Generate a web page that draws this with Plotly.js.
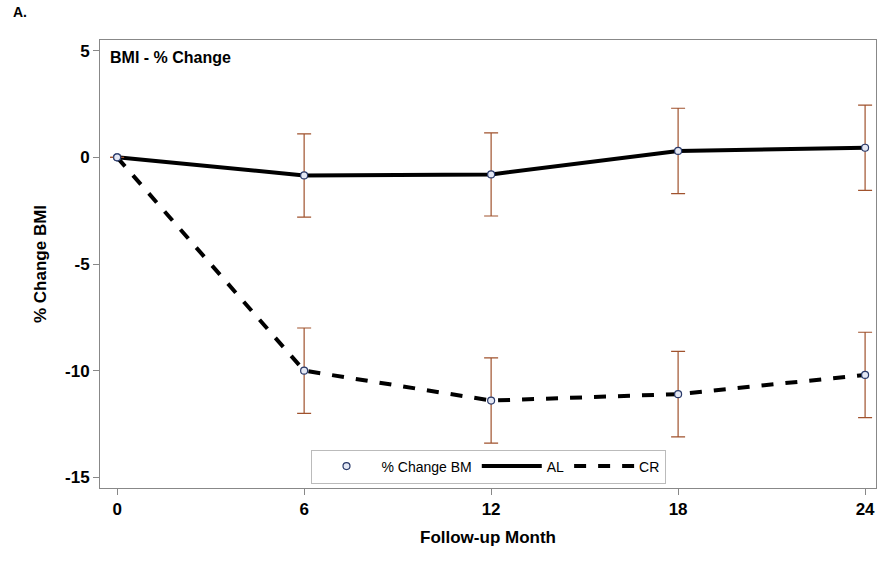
<!DOCTYPE html>
<html><head><script src="https://cdn.plot.ly/plotly-3.0.1.min.js"></script>
<style>body{margin:0;background:#fff}</style></head>
<body><div id="chart" style="width:888px;height:574px"></div>
<script>
const months = [0, 6, 12, 18, 24];
const al_change = [0, -0.85, -0.8, 0.3, 0.45];
const cr_change = [0, -10.0, -11.4, -11.1, -10.2];
const al_err = [0, 1.95, 1.95, 2.0, 2.0];
const cr_err = [0, 2.0, 2.0, 2.0, 2.0];
const y_ticks = [5, 0, -5, -10, -15];
const y_labels = ['5', '0', '-5', '-10', '-15'];
const errColor = '#a0522d';

const data = [
	{x: months.concat(months), y: al_change.concat(cr_change), mode: 'markers', name: '% Change BM',
		marker: {symbol: 'circle', size: 7, color: '#e4e8f4', line: {color: '#2a3a6a', width: 1.2}}},
	{x: months, y: al_change, mode: 'lines', name: 'AL', line: {color: '#000', width: 4},
		error_y: {type: 'data', array: al_err, color: errColor, thickness: 1.2, width: 7}},
	{x: months, y: cr_change, mode: 'lines', name: 'CR', line: {color: '#000', width: 4, dash: 'dash'},
		error_y: {type: 'data', array: cr_err, color: errColor, thickness: 1.2, width: 7}}
];
// draw markers on top
const order = [data[1], data[2], data[0]];
const layout = {
	width: 888, height: 574,
	margin: {l: 100, r: 12, t: 40, b: 86},
	font: {family: 'Arial, Liberation Sans, sans-serif', color: '#000'},
	showlegend: true,
	legend: {orientation: 'h', x: 0.5, xanchor: 'center', y: 0.01, yanchor: 'bottom',
		bordercolor: '#bbb', borderwidth: 1, font: {size: 14}, traceorder: 'normal', bgcolor: '#fff',
		itemwidth: 60, tracegroupgap: 0},
	xaxis: {range: [-0.55, 24.35], tickvals: months, showgrid: false, zeroline: false,
		showline: true, mirror: true, linecolor: '#888', ticks: 'outside', ticklen: 6, tickcolor: '#888',
		tickfont: {size: 17, weight: 'bold'},
		title: {text: '<b>Follow-up Month</b>', font: {size: 17}, standoff: 12}},
	yaxis: {range: [-15.5, 5.5], tickvals: y_ticks, ticktext: y_labels, showgrid: false, zeroline: false,
		showline: true, mirror: true, linecolor: '#888', ticks: 'outside', ticklen: 6, tickcolor: '#888',
		tickfont: {size: 17, weight: 'bold'},
		title: {text: '<b>% Change BMI</b>', font: {size: 17}, standoff: 14}},
	annotations: [
		{text: '<b>BMI - % Change</b>', xref: 'paper', yref: 'paper', x: 0.01, y: 0.985,
			xanchor: 'left', yanchor: 'top', showarrow: false, font: {size: 16}},
		{text: '<b>A.</b>', xref: 'paper', yref: 'paper', x: -0.115, y: 1.085,
			xanchor: 'left', yanchor: 'top', showarrow: false, font: {size: 14}}
	]
};
order[0].legendrank = 2; order[1].legendrank = 3; order[2].legendrank = 1;
Plotly.newPlot('chart', order, layout, {displayModeBar: false});
</script></body></html>
